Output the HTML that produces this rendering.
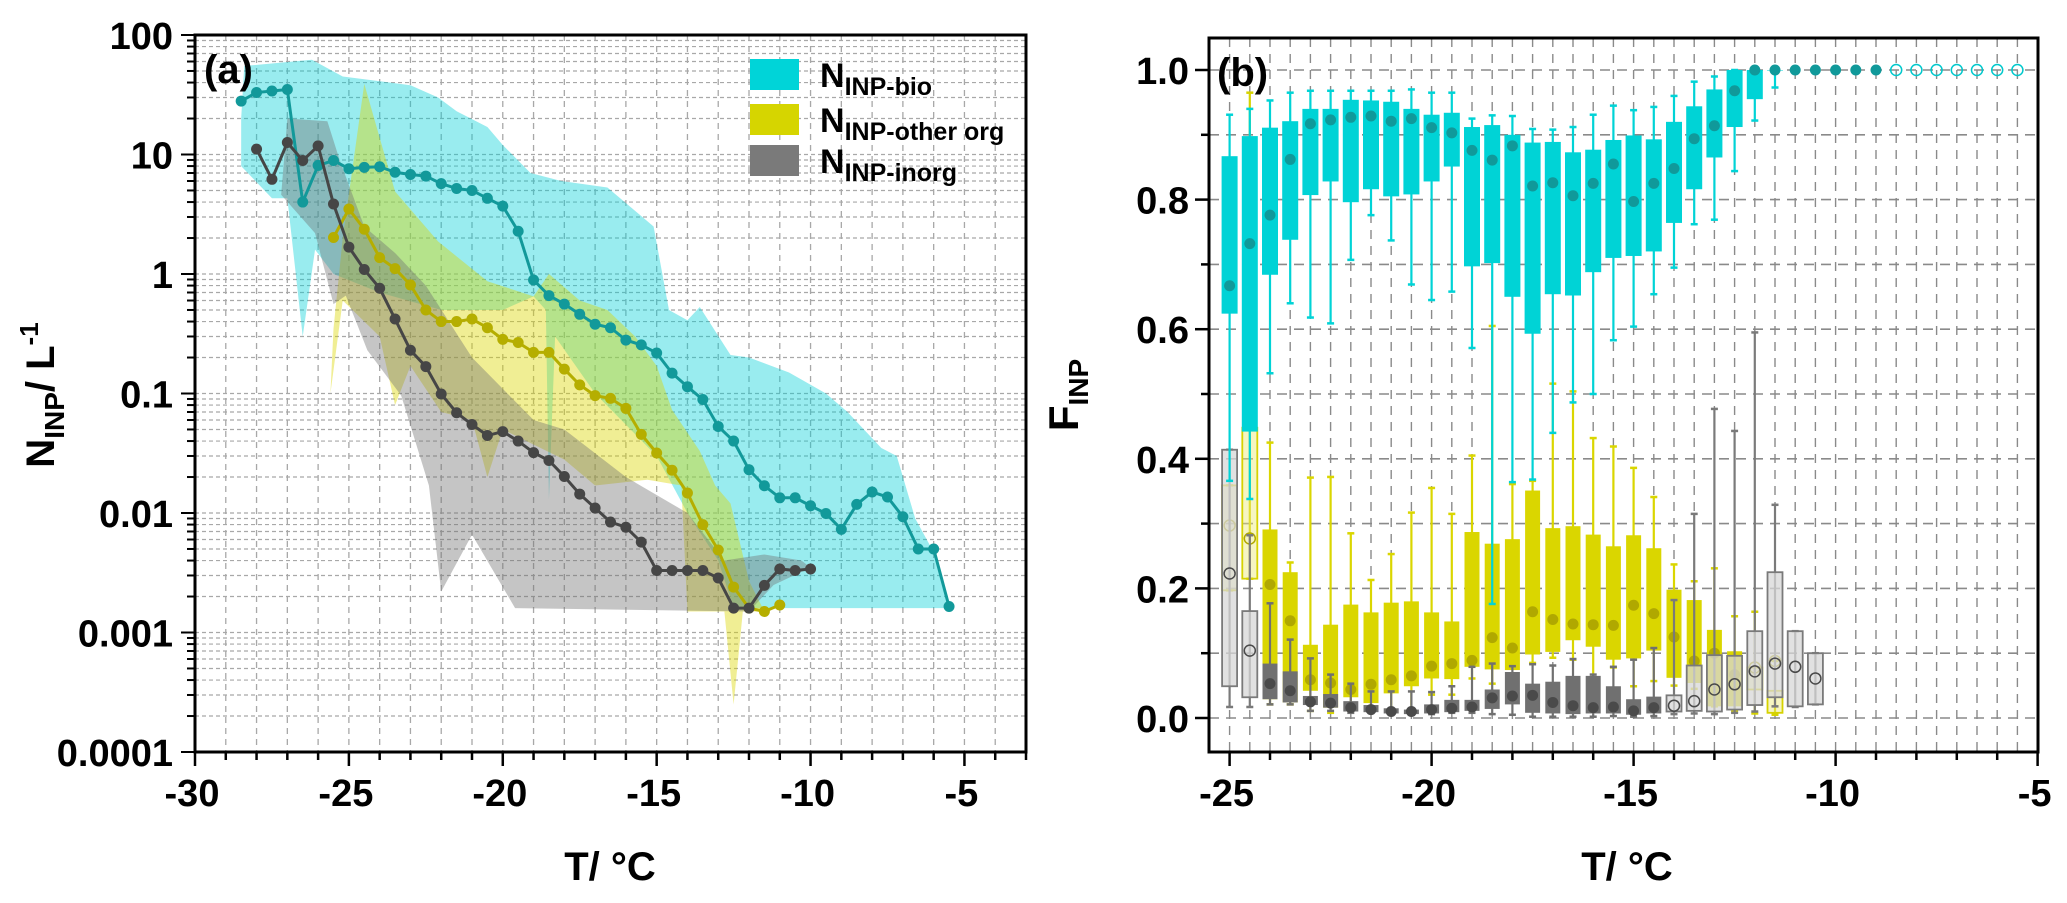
<!DOCTYPE html>
<html><head><meta charset="utf-8">
<style>
html,body{margin:0;padding:0;background:#fff;}
svg{display:block;font-family:"Liberation Sans",Arial,sans-serif;}
</style></head>
<body>
<svg id="chart" width="2067" height="903" viewBox="0 0 2067 903" xmlns="http://www.w3.org/2000/svg">
<g id="pa"></g>
<g id="pb"></g>
</svg>
<script>
// ---------- Panel (a) data ----------
const bioT = [-28.5,-28,-27.5,-27,-26.5,-26,-25.5,-25,-24.5,-24,-23.5,-23,-22.5,-22,-21.5,-21,-20.5,-20,-19.5,-19,-18.5,-18,-17.5,-17,-16.5,-16,-15.5,-15,-14.5,-14,-13.5,-13,-12.5,-12,-11.5,-11,-10.5,-10,-9.5,-9,-8.5,-8,-7.5,-7,-6.5,-6,-5.5];
const bioN = [28,33,34,35,4.0,8.1,8.9,7.6,7.8,7.9,7.1,6.8,6.6,5.7,5.2,5.0,4.3,3.7,2.28,0.89,0.66,0.56,0.46,0.38,0.355,0.28,0.255,0.218,0.148,0.114,0.089,0.053,0.040,0.023,0.0169,0.0134,0.0134,0.0115,0.0099,0.0073,0.0118,0.015,0.0136,0.0093,0.005,0.005,0.00165];
const orgT = [-25.5,-25,-24.5,-24,-23.5,-23,-22.5,-22,-21.5,-21,-20.5,-20,-19.5,-19,-18.5,-18,-17.5,-17,-16.5,-16,-15.5,-15,-14.5,-14,-13.5,-13,-12.5,-12,-11.5,-11];
const orgN = [2.02,3.5,2.37,1.37,1.11,0.81,0.50,0.40,0.40,0.42,0.355,0.284,0.267,0.221,0.221,0.16,0.118,0.096,0.091,0.075,0.0455,0.0318,0.0228,0.0147,0.008,0.0049,0.0024,0.0016,0.0015,0.0017];
const inoT = [-28,-27.5,-27,-26.5,-26,-25.5,-25,-24.5,-24,-23.5,-23,-22.5,-22,-21.5,-21,-20.5,-20,-19.5,-19,-18.5,-18,-17.5,-17,-16.5,-16,-15.5,-15,-14.5,-14,-13.5,-13,-12.5,-12,-11.5,-11,-10.5,-10];
const inoN = [11.1,6.2,12.6,8.9,11.8,3.85,1.68,1.09,0.76,0.42,0.23,0.168,0.099,0.069,0.055,0.0445,0.048,0.040,0.032,0.0275,0.0202,0.0144,0.011,0.0084,0.0076,0.0057,0.0033,0.0033,0.0033,0.0033,0.00286,0.0016,0.0016,0.00248,0.0034,0.0033,0.0034];
// shaded ranges
const bioUpT = [-28.5,-28.4,-26.2,-25.2,-23.0,-22.1,-21.5,-20.5,-20.0,-19.1,-18.1,-16.6,-15.1,-14.6,-14.0,-13.6,-12.6,-12.0,-10.7,-9.5,-8.8,-7.7,-7.2,-6.6,-6.0,-5.5];
const bioUp = [20,55,62,45,38,30,23,17,12,7,6,5.3,2.5,0.5,0.41,0.53,0.21,0.2,0.15,0.1,0.07,0.035,0.03,0.009,0.0047,0.0016];
const bioLoT = [-28.5,-27.5,-27.0,-26.5,-26.1,-25.5,-24,-22,-20,-19,-18.6,-18.5,-18.3,-17,-15,-14,-13,-12.5,-6.5,-5.5];
const bioLo = [8,4.3,4.3,0.3,1.6,1.0,0.7,0.5,0.5,0.65,0.5,0.013,0.3,0.1,0.03,0.01,0.004,0.0016,0.0016,0.0016];
const orgUpT = [-25.6,-25.5,-25.2,-24.5,-23.5,-22.1,-20.5,-19.0,-18.5,-17.5,-16.6,-15.7,-15.0,-14.5,-13.6,-13.1,-12.6,-12.0,-11.5];
const orgUp = [0.1,0.35,2,39,4.9,1.87,0.87,0.65,1.0,0.6,0.5,0.3,0.17,0.073,0.033,0.017,0.012,0.0027,0.0015];
const orgLoT = [-25.6,-25.2,-24,-23.5,-23,-22,-21,-20.5,-20,-18,-17,-15.3,-14.2,-14.0,-12.8,-12.5,-12.2,-11.5];
const orgLo = [0.1,0.6,0.3,0.08,0.17,0.07,0.06,0.02,0.05,0.028,0.017,0.019,0.017,0.0015,0.0015,0.00025,0.0015,0.0015];
const inoUpT = [-27.2,-27.0,-25.7,-25.3,-24.5,-23.5,-22.5,-21,-19,-18,-16,-14,-12.8,-11.5,-10.3,-10.0];
const inoUp = [4.6,20,19,9,2.5,1.5,0.8,0.2,0.06,0.05,0.02,0.01,0.004,0.0045,0.004,0.0035];
const inoLoT = [-27.2,-26.1,-25.5,-25.1,-24.4,-23.3,-22.4,-22.0,-21.0,-19.6,-12,-11.2,-10.0];
const inoLo = [4.6,2.2,0.56,0.66,0.23,0.096,0.017,0.0022,0.0066,0.0016,0.0015,0.0025,0.0035];
const aXTicks = [-30,-25,-20,-15,-10,-5];
const aYTicks = [100,10,1,0.1,0.01,0.001,0.0001];
const aYLabels = ["100","10","1","0.1","0.01","0.001","0.0001"];

// ---------- Panel (b) data ----------
const boxT = [-25,-24.5,-24,-23.5,-23,-22.5,-22,-21.5,-21,-20.5,-20,-19.5,-19,-18.5,-18,-17.5,-17,-16.5,-16,-15.5,-15,-14.5,-14,-13.5,-13,-12.5,-12,-11.5,-11,-10.5];
const bioWhT = [0.931,0.94,0.953,0.965,0.968,0.968,0.968,0.968,0.968,0.97,0.965,0.965,0.925,0.93,0.929,0.909,0.908,0.912,0.931,0.945,0.938,0.943,0.96,0.982,0.99,1.0,1.0,1.0];
const bioQ3 = [0.867,0.898,0.911,0.921,0.94,0.94,0.954,0.953,0.951,0.94,0.931,0.934,0.912,0.915,0.90,0.888,0.889,0.873,0.877,0.892,0.899,0.893,0.92,0.944,0.97,1.0,1.0,1.0];
const bioMed = [0.667,0.732,0.776,0.862,0.917,0.923,0.927,0.929,0.921,0.925,0.911,0.903,0.876,0.861,0.883,0.821,0.826,0.806,0.825,0.855,0.797,0.825,0.848,0.894,0.914,0.968,1.0,1.0];
const bioQ1 = [0.624,0.442,0.684,0.738,0.807,0.828,0.796,0.816,0.805,0.808,0.828,0.851,0.697,0.702,0.65,0.593,0.654,0.652,0.688,0.71,0.713,0.72,0.764,0.816,0.865,0.912,0.955,1.0];
const bioWhB = [0.366,0.338,0.532,0.64,0.618,0.609,0.707,0.776,0.737,0.669,0.645,0.658,0.571,0.176,0.364,0.368,0.44,0.487,0.5,0.583,0.604,0.654,0.695,0.762,0.769,0.844,0.922,0.973];
const bioDotT = [-11,-10.5,-10,-9.5,-9];
const bioDotV = [1,1,1,1,1];
const bioOpenT = [-8.5,-8,-7.5,-7,-6.5,-6,-5.5];
const bioOpenV = [1,1,1,1,1,1,1];
const orgWhT = [0.359,0.965,0.425,0.24,0.371,0.372,0.285,0.213,0.253,0.317,0.355,0.315,0.405,0.605,0.361,0.366,0.516,0.504,0.432,0.419,0.386,0.341,0.237,0.211,0.231,0.157,0.164,0.088];
const orgQ3 = [0.359,0.448,0.291,0.225,0.113,0.144,0.175,0.163,0.178,0.18,0.163,0.149,0.287,0.269,0.276,0.351,0.293,0.296,0.283,0.265,0.282,0.262,0.198,0.182,0.136,0.103,0.078,0.042];
const orgMed = [0.297,0.277,0.206,0.15,0.059,0.054,0.044,0.052,0.059,0.065,0.08,0.084,0.089,0.124,0.108,0.164,0.152,0.145,0.144,0.143,0.174,0.161,0.125,0.088,0.1,0.067,0.078,0.088];
const orgQ1 = [0.197,0.215,0.029,0.024,0.042,0.016,0.032,0.023,0.038,0.049,0.061,0.06,0.079,0.075,0.074,0.098,0.102,0.12,0.11,0.09,0.092,0.104,0.062,0.054,0.018,0.018,0.044,0.008];
const orgWhB = [0.197,0.215,0.021,0.021,0.011,0.008,0.011,0.011,0.011,0.011,0.036,0.036,0.061,0.053,0.08,0.085,0.093,0.09,0.054,0.078,0.049,0.057,0.05,0.045,0.018,0.01,0.007,0.005];
const orgLight = [1,1,0,0,0,0,0,0,0,0,0,0,0,0,0,0,0,0,0,0,0,0,0,0,0,0,1,1];
const inWhT = [0.414,0.282,0.177,0.121,0.092,0.067,0.053,0.041,0.041,0.041,0.04,0.049,0.079,0.084,0.08,0.083,0.081,0.091,0.067,0.079,0.09,0.108,0.182,0.315,0.477,0.443,0.595,0.329,0.134,0.1];
const inQ3 = [0.414,0.165,0.084,0.072,0.034,0.037,0.026,0.02,0.015,0.013,0.021,0.028,0.028,0.044,0.071,0.053,0.056,0.065,0.065,0.049,0.029,0.033,0.035,0.081,0.097,0.096,0.134,0.225,0.134,0.1];
const inMed = [0.223,0.104,0.053,0.042,0.025,0.023,0.016,0.013,0.01,0.01,0.013,0.015,0.017,0.031,0.034,0.035,0.024,0.019,0.016,0.017,0.011,0.016,0.019,0.026,0.044,0.052,0.072,0.084,0.079,0.061];
const inQ1 = [0.049,0.032,0.029,0.024,0.02,0.016,0.01,0.009,0.007,0.006,0.007,0.009,0.011,0.014,0.021,0.008,0.007,0.006,0.007,0.007,0.005,0.007,0.01,0.011,0.01,0.013,0.02,0.032,0.018,0.021];
const inWhB = [0.017,0.017,0.021,0.021,0.011,0.011,0.008,0.008,0.006,0.005,0.006,0.008,0.008,0.006,0.005,0.002,0.002,0.002,0.002,0.003,0.002,0.003,0.006,0.007,0.006,0.008,0.01,0.018,0.017,0.021];
const inLight = [1,1,0,0,0,0,0,0,0,0,0,0,0,0,0,0,0,0,0,0,0,0,1,1,1,1,1,1,1,1];
const bXTicks = [-25,-20,-15,-10,-5];
const bYTicks = [0,0.2,0.4,0.6,0.8,1.0];
const bYLabels = ["0.0","0.2","0.4","0.6","0.8","1.0"];

const NS = "http://www.w3.org/2000/svg";
function mk(parent, tag, attrs){ const e=document.createElementNS(NS,tag); for(const k in attrs) e.setAttribute(k,attrs[k]); parent.appendChild(e); return e; }

// ---------- Panel (a) ----------
const A = {l:195, r:1026, t:35, b:752};
const ax = t => A.l + (t + 30) * (A.r - A.l) / 27;
const ay = v => A.t + (2 - Math.log10(v)) * (A.b - A.t) / 6;
const pa = document.getElementById('pa');

// grid
for(let t=-29;t<=-4;t++){
  const g = mk(pa,'line',{x1:ax(t),x2:ax(t),y1:A.t,y2:A.b,stroke:'#a8a8a8','stroke-width':1.3,'stroke-dasharray':'6,5'});
  
  
}
for(let e=-4;e<2;e++){
  for(let m=1;m<10;m++){
    const v=m*Math.pow(10,e); if(m===1 && e===-4) continue;
    const g = mk(pa,'line',{x1:A.l,x2:A.r,y1:ay(v),y2:ay(v),stroke:'#a8a8a8','stroke-width':1.2,'stroke-dasharray':'4,3'});
    
    
  }
}
function band(Tu,Vu,Tl,Vl,fill,name){
  let pts=[];
  for(let i=0;i<Tu.length;i++) pts.push(ax(Tu[i])+','+ay(Vu[i]));
  for(let i=Tl.length-1;i>=0;i--) pts.push(ax(Tl[i])+','+ay(Vl[i]));
  const p = mk(pa,'polygon',{points:pts.join(' '),fill:fill});
  
  
}
band(bioUpT,bioUp,bioLoT,bioLo,'rgba(0,208,214,0.40)','bio-range-band');
band(orgUpT,orgUp,orgLoT,orgLo,'rgba(220,215,0,0.42)','other-org-range-band');
band(inoUpT,inoUp,inoLoT,inoLo,'rgba(110,110,110,0.40)','inorg-range-band');

function series(T,V,col,name){
  const d = T.map((t,i)=>(i?'L':'M')+ax(t)+','+ay(V[i])).join(' ');
  const p = mk(pa,'path',{d:d,fill:'none',stroke:col,'stroke-width':3});
  
  
  T.forEach((t,i)=>{
    const c = mk(pa,'circle',{cx:ax(t),cy:ay(V[i]),r:5.5,fill:col});
    
    
  });
}
series(bioT,bioN,'#12999a','bio');
series(orgT,orgN,'#b5ae00','other-org');
series(inoT,inoN,'#464646','inorg');

// frame and ticks
const fa = mk(pa,'rect',{x:A.l,y:A.t,width:A.r-A.l,height:A.b-A.t,fill:'none',stroke:'#000','stroke-width':3});


for(let t=-30;t<=-3;t++){
  const major = aXTicks.includes(t);
  const tk = mk(pa,'line',{x1:ax(t),x2:ax(t),y1:A.b,y2:A.b+(major?14:8),stroke:'#000','stroke-width':2.5});
  
  
}
aXTicks.forEach(t=>{
  const tx = mk(pa,'text',{x:ax(t)-3,y:806,'font-size':38,'font-weight':'bold','text-anchor':'middle'});
  tx.textContent = String(t);
  
  
});
for(let e=-4;e<2;e++){
  for(let m=1;m<10;m++){
    const v=m*Math.pow(10,e);
    const tk = mk(pa,'line',{x1:A.l-(m===1?14:8),x2:A.l,y1:ay(v),y2:ay(v),stroke:'#000','stroke-width':2});
    
    
  }
}
{ const tk = mk(pa,'line',{x1:A.l-14,x2:A.l,y1:ay(100),y2:ay(100),stroke:'#000','stroke-width':2}); }
aYTicks.forEach((v,i)=>{
  const tx = mk(pa,'text',{x:A.l-22,y:ay(v)+14,'font-size':38,'font-weight':'bold','text-anchor':'end'});
  tx.textContent = aYLabels[i];
  
  
});
</script>
<script>
// static labels for panel a
(function(){
  const pa=document.getElementById('pa');
  pa.insertAdjacentHTML('beforeend',
  '<text x="204" y="83" font-size="40" font-weight="bold">(a)</text>'+
  '<text x="610" y="880" font-size="40" font-weight="bold" text-anchor="middle">T/ °C</text>'+
  '<text transform="translate(54,395) rotate(-90)" font-size="40" font-weight="bold" text-anchor="middle">N<tspan font-size="28" dy="10">INP</tspan><tspan dy="-10">/ L</tspan><tspan font-size="26" dy="-16">-1</tspan></text>'+
  '<g>'+
   '<rect x="750" y="59" width="49" height="31" fill="#00d4d8"/>'+
   '<text x="820" y="87" font-size="34" font-weight="bold">N<tspan font-size="25" dy="8">INP-bio</tspan></text>'+
   '<rect x="750" y="104" width="49" height="31" fill="#d6d500"/>'+
   '<text x="820" y="132" font-size="34" font-weight="bold">N<tspan font-size="25" dy="8">INP-other org</tspan></text>'+
   '<rect x="750" y="145" width="49" height="31" fill="#7a7a7a"/>'+
   '<text x="820" y="173" font-size="34" font-weight="bold">N<tspan font-size="25" dy="8">INP-inorg</tspan></text>'+
  '</g>');
})();
</script>
<script>
// ---------- Panel (b) ----------
const B = {l:1209, r:2038, t:38, b:752};
const bx = t => 1229.6 + (t + 25) * 40.4;
const by = v => 718 - v * 648;
const pb = document.getElementById('pb');
for(let t=-25;t<=-5.5;t+=0.5){
  const g = mk(pb,'line',{x1:bx(t),x2:bx(t),y1:B.t,y2:B.b,stroke:'#8a8a8a','stroke-width':1.4,'stroke-dasharray':'9,7'});
  
  
}
for(let k=0;k<=10;k++){
  const v=k/10;
  const g = mk(pb,'line',{x1:B.l,x2:B.r,y1:by(v),y2:by(v),stroke:'#8a8a8a','stroke-width':1.6,'stroke-dasharray':'10,7'});
  
  
}
function boxes(whT,q3,med,q1,whB,light,fill,lightFill,stroke,dotCol,name,w){
  for(let i=0;i<q3.length;i++){
    const x = bx(boxT[i]); const isL = light && light[i];
    const wl = mk(pb,'line',{x1:x,x2:x,y1:by(whT[i]),y2:by(whB[i]),stroke:isL?stroke:fill,'stroke-width':2.2});
    
    
    [whT[i],whB[i]].forEach(v=>{
      const c = mk(pb,'line',{x1:x-3.5,x2:x+3.5,y1:by(v),y2:by(v),stroke:isL?stroke:fill,'stroke-width':2.5});
      
      
    });
    const h = Math.max(by(q1[i])-by(q3[i]),0.5);
    const r = mk(pb,'rect',{x:x-w/2,y:by(q3[i]),width:w,height:h,fill:isL?lightFill:fill,stroke:isL?stroke:'none','stroke-width':isL?1.8:0});
    
    
    const d = mk(pb,'circle',{cx:x,cy:by(med[i]),r:isL?5.5:5.5,fill:isL?'none':dotCol,stroke:isL?dotCol:'none','stroke-width':1.5});
    
    
  }
}
boxes(orgWhT,orgQ3,orgMed,orgQ1,orgWhB,orgLight,'#dad600','rgba(236,232,120,0.45)','#d6d200','#b0a800','other-org',15);
boxes(inWhT,inQ3,inMed,inQ1,inWhB,inLight,'#707070','rgba(215,215,215,0.75)','#7a7a7a','#4a4a4a','inorg',15);
boxes(bioWhT,bioQ3,bioMed,bioQ1,bioWhB,null,'#00d3d6','','#00d3d6','#10999a','bio',16);
bioDotT.forEach((t,i)=>{
  const c = mk(pb,'circle',{cx:bx(t),cy:by(bioDotV[i]),r:5.5,fill:'#10999a'});
  
  
});
bioOpenT.forEach((t,i)=>{
  const c = mk(pb,'circle',{cx:bx(t),cy:by(bioOpenV[i]),r:5.5,fill:'none',stroke:'#00c8cc','stroke-width':1.5});
  
  
});
const fb = mk(pb,'rect',{x:B.l,y:B.t,width:B.r-B.l,height:B.b-B.t,fill:'none',stroke:'#000','stroke-width':3});


for(let t=-25;t<=-5;t++){
  const major = bXTicks.includes(t);
  const tk = mk(pb,'line',{x1:bx(t),x2:bx(t),y1:B.b,y2:B.b+(major?14:8),stroke:'#000','stroke-width':2.5});
  
  
}
bXTicks.forEach(t=>{
  const tx = mk(pb,'text',{x:bx(t)-3,y:806,'font-size':38,'font-weight':'bold','text-anchor':'middle'});
  tx.textContent = String(t);
  
  
});
for(let k=0;k<=10;k++){
  const v=k/10; const major=(k%2===0);
  const tk = mk(pb,'line',{x1:B.l-(major?14:8),x2:B.l,y1:by(v),y2:by(v),stroke:'#000','stroke-width':2.5});
  
  
}
bYTicks.forEach((v,i)=>{
  const tx = mk(pb,'text',{x:B.l-20,y:by(v)+14,'font-size':38,'font-weight':'bold','text-anchor':'end'});
  tx.textContent = bYLabels[i];
  
  
});
pb.insertAdjacentHTML('beforeend',
 '<text x="1217" y="86" font-size="40" font-weight="bold">(b)</text>'+
 '<text x="1627" y="880" font-size="40" font-weight="bold" text-anchor="middle">T/ °C</text>'+
 '<text transform="translate(1078,395) rotate(-90)" font-size="42" font-weight="bold" text-anchor="middle">F<tspan font-size="28" dy="10">INP</tspan></text>');
</script>
</body></html>
